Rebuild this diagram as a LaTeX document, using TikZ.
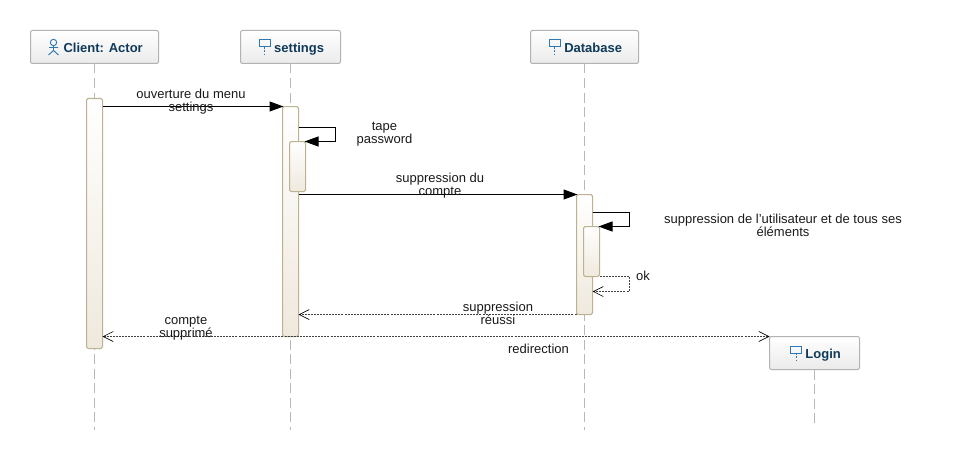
\documentclass[tikz,border=0pt]{standalone}
\usepackage{fontspec}
\setmainfont{Liberation Sans}
\usetikzlibrary{positioning, arrows.meta}

\definecolor{headtext}{HTML}{0F3A5A}
\definecolor{iconblue}{HTML}{2F78B4}
\definecolor{barline}{HTML}{BDB192}
\definecolor{barfill}{HTML}{EFE9DD}

\tikzset{
    objbox/.style={draw=black!30, rounded corners=1.5pt, line width=0.75pt, top color=white, bottom color=black!8, minimum height=24.75pt, inner sep=0pt, outer sep=0pt, text=headtext, text height=9.5pt, text depth=1.5pt, font=\fontsize{9.75}{11}\selectfont\bfseries},
    bar/.style={draw=barline, rounded corners=1.2pt, line width=0.75pt, top color=white, bottom color=barfill, minimum width=12pt, inner sep=0pt, outer sep=0pt},
    lifeline/.style={draw=black!28, line width=0.75pt, dash pattern=on 7.5pt off 3.4pt},
    msg/.style={draw=black, line width=0.75pt, shorten >=-0.75pt, -{Triangle[length=10.5pt, width=7.5pt]}},
    barb/.tip={Straight Barb[length=7.5pt, width=7.5pt, black, line width=0.5pt]},
    reply/.style={draw=black!75, line width=0.6pt, dash pattern=on 1.5pt off 0.8pt, -barb},
    replyboth/.style={reply, barb-barb},
    txt/.style={inner sep=0pt, align=center, text=black!90, font=\fontsize{9.75}{9.75}\selectfont},
    pics/lifeicon/.style={code={
        \draw[iconblue, line width=0.75pt] (-5.5,-4) rectangle (5.5,3);
        \draw[iconblue, line width=0.75pt, dash pattern=on 1.5pt off 1pt] (0,3) -- (0,10);
    }},
    pics/actoricon/.style={code={
        \draw[iconblue, line width=0.7pt] (0,-4.5) circle (3.2);
        \draw[iconblue, line width=0.7pt] (0,-1.3) -- (0,3.5) (-4.5,0.5) -- (4.5,0.5) (-5,8) -- (0,3.5) -- (5,8);
    }},
}

\begin{document}
\begin{tikzpicture}[x=0.75pt, y=-0.75pt]
    \useasboundingbox (0, 0) rectangle (967, 460);

    \node[objbox, minimum width=96pt] (client) at (94.5, 47) {\hspace*{13pt}Client: Actor};
    \node[objbox, minimum width=75pt] (settings) at (290.5, 47) {\hspace*{13pt}settings};
    \node[objbox, minimum width=81pt] (database) at (584.5, 47) {\hspace*{13pt}Database};
    \node[objbox, minimum width=67.5pt] (login) at (814.5, 353) {\hspace*{13pt}Login};

    \pic at (53.5, 47) {actoricon};
    \pic at (264.5, 44) {lifeicon};
    \pic at (554.5, 44) {lifeicon};
    \pic at (796, 350) {lifeicon};

    \coordinate (clientEnd) at (94.5, 430);
    \coordinate (settingsEnd) at (290.5, 430);
    \coordinate (databaseEnd) at (584.5, 430);
    \coordinate (loginEnd) at (814.5, 425);

    \draw[lifeline] (client) -- (clientEnd);
    \draw[lifeline] (settings) -- (settingsEnd);
    \draw[lifeline] (database) -- (databaseEnd);
    \draw[lifeline] (login) -- (loginEnd);

    \node[bar, minimum height=187.5pt] (clientBar) at (94.5, 223.5) {};
    \node[bar, minimum height=172.5pt] (settingsBar) at (290.5, 221.5) {};
    \node[bar, minimum height=37.5pt] (passBar) at (297.5, 166.5) {};
    \node[bar, minimum height=90pt] (databaseBar) at (584.5, 254.5) {};
    \node[bar, minimum height=37.5pt] (deleteBar) at (591.5, 251.5) {};

    \coordinate (passStart) at (298.5, 127);
    \coordinate (passTurn) at (335.5, 127);
    \coordinate (deleteStart) at (592.5, 212);
    \coordinate (deleteTurn) at (629.5, 212);
    \coordinate (okTurn) at (629.5, 276.5);
    \coordinate (okEnd) at (592.5, 291.5);

    \draw[msg] (clientBar.east |- settingsBar.north) -- (settingsBar.north west);
    \draw[msg] (passStart) -- (passTurn) |- (passBar.north east);
    \draw[msg] (settingsBar.east |- databaseBar.north) -- (databaseBar.north west);
    \draw[msg] (deleteStart) -- (deleteTurn) |- (deleteBar.north east);
    \draw[reply] (deleteBar.south east) -- (okTurn) |- (okEnd);
    \draw[reply] (databaseBar.south west) -- (settingsBar.east |- databaseBar.south);
    \draw[replyboth] (clientBar.east |- login.north) -- (login.north west);

    \node[txt] (openText) at (191, 101.5) {ouverture du menu\\settings};
    \node[txt] (passText) at (384.5, 134) {tape\\password};
    \node[txt] (deleteText) at (440, 186) {suppression du\\compte};
    \node[txt] (allText) at (783, 225) {suppression de l'utilisateur et de tous ses\\éléments};
    \node[txt] (okText) at (643, 276) {ok};
    \node[txt] (doneText) at (498, 313) {suppression\\réussi};
    \node[txt] (goneText) at (186, 328) {compte\\supprimé};
    \node[txt] (redirText) at (538.5, 349) {redirection};
\end{tikzpicture}
\end{document}
